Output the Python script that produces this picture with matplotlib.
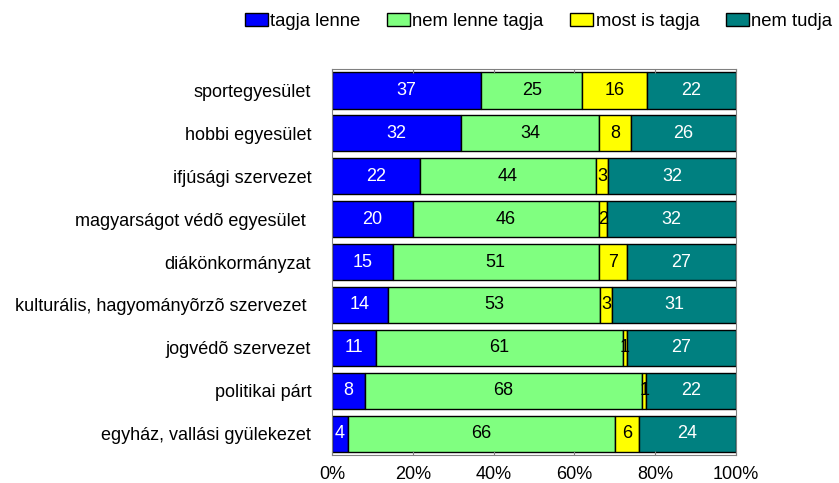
# Stacked 100% bar chart of organisation membership answers.
import matplotlib.pyplot as plt
import numpy as np

plt.rcParams["font.family"] = ["Liberation Sans", "DejaVu Sans"]

# Categories (top to bottom) and answer shares.
categories = ["sportegyesület", "hobbi egyesület", "ifjúsági szervezet",
              "magyarságot védõ egyesület ", "diákönkormányzat",
              "kulturális, hagyományõrzõ szervezet ", "jogvédõ szervezet",
              "politikai párt", "egyház, vallási gyülekezet"]
tagja_lenne = [37, 32, 22, 20, 15, 14, 11, 8, 4]
nem_lenne_tagja = [25, 34, 44, 46, 51, 53, 61, 68, 66]
most_is_tagja = [16, 8, 3, 2, 7, 3, 1, 1, 6]
nem_tudja = [22, 26, 32, 32, 27, 31, 27, 22, 24]

series = [("tagja lenne", tagja_lenne, "#0000ff", "white"),
          ("nem lenne tagja", nem_lenne_tagja, "#80ff80", "black"),
          ("most is tagja", most_is_tagja, "#ffff00", "black"),
          ("nem tudja", nem_tudja, "#008080", "white")]

totals = np.sum([s[1] for s in series], axis=0)
fs = 13

fig = plt.figure(figsize=(8.39, 4.83), dpi=100)
ax = fig.add_axes([0.3957, 0.058, 0.4815, 0.799])

y = np.arange(len(categories))
left = np.zeros(len(categories))
for name, vals, color, tcolor in series:
    share = np.array(vals) / totals * 100
    bars = ax.barh(y, share, left=left, height=0.84, color=color,
                   edgecolor="black", linewidth=1, label=name)
    for b, v in zip(bars, vals):
        ax.text(b.get_x() + b.get_width() / 2, b.get_y() + b.get_height() / 2,
                str(v), ha="center", va="center", color=tcolor, fontsize=fs)
    left += share

ax.set_xlim(0, 100)
ax.set_ylim(len(categories) - 0.5, -0.5)
ax.set_yticks(y)
ax.set_yticklabels(categories, fontsize=fs)
ax.set_xticks(np.arange(0, 101, 20))
ax.set_xticklabels([f"{t}%" for t in range(0, 101, 20)], fontsize=fs)
ax.tick_params(axis="x", direction="in", length=3, color="#808080",
               top=True, pad=8)
ax.tick_params(axis="y", length=0, pad=15)
for sp in ax.spines.values():
    sp.set_color("#808080")

fig.legend(loc="center right", bbox_to_anchor=(0.992, 0.956), ncol=4,
           frameon=False, fontsize=13.3, handlelength=1.25, handleheight=0.7,
           handletextpad=0.12, columnspacing=1.45, borderaxespad=0,
           borderpad=0)

fig.savefig("out.png", dpi=100)
